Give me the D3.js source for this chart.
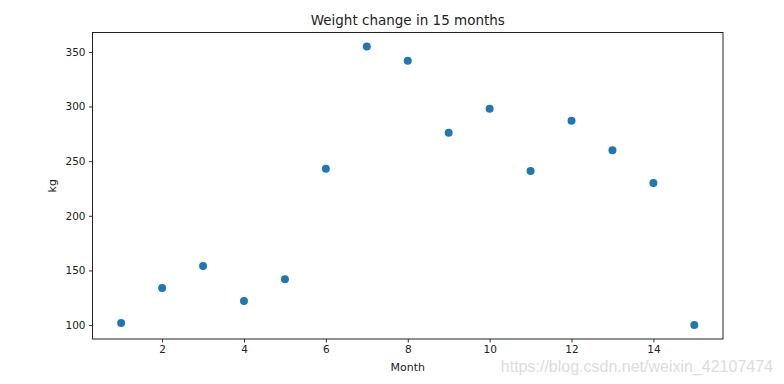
<!DOCTYPE html>
<html>
<head>
<meta charset="utf-8">
<script src="https://cdn.jsdelivr.net/npm/d3@7"></script>
<style>
html,body{margin:0;padding:0;background:#fff;}
svg{display:block;font-family:"DejaVu Sans",sans-serif;}
</style>
</head>
<body>
<svg id="chart" width="784" height="384"></svg>
<script>
const months = [1,2,3,4,5,6,7,8,9,10,11,12,13,14,15];
const weights = [102,134,154,122,142,243,355,342,276,298,241,287,260,230,100];
const xTicks = [2,4,6,8,10,12,14];
const yTicks = [100,150,200,250,300,350];
const title = "Weight change in 15 months";
const xLabel = "Month";
const yLabel = "kg";
const watermark = "https://blog.csdn.net/weixin_42107474";

const svg = d3.select("#chart");
const L = 92.5, R = 723, T = 32.5, B = 339;

const xmin = d3.min(months), xmax = d3.max(months);
const xpad = (xmax - xmin) * 0.05;
const ymin = d3.min(weights), ymax = d3.max(weights);
const ypad = (ymax - ymin) * 0.05;

const x = d3.scaleLinear().domain([xmin - xpad, xmax + xpad]).range([L, R]);
const y = d3.scaleLinear().domain([ymin - ypad, ymax + ypad]).range([B, T]);

const xAxis = svg.append("g").attr("transform", `translate(0,${B})`)
  .call(d3.axisBottom(x).tickValues(xTicks).tickSize(3.5).tickPadding(3.5).tickFormat(d3.format("d")));
const yAxis = svg.append("g").attr("transform", `translate(${L},0)`)
  .call(d3.axisLeft(y).tickValues(yTicks).tickSize(3.5).tickPadding(3.5).tickFormat(d3.format("d")));

[xAxis, yAxis].forEach(g => {
  g.select(".domain").remove();
  g.selectAll("line").attr("stroke", "#000").attr("stroke-width", 0.8);
  g.selectAll("text").attr("fill", "#222").attr("font-size", 10.5).attr("font-family", "DejaVu Sans, sans-serif");
});

svg.append("rect").attr("x", L).attr("y", T).attr("width", R - L).attr("height", B - T)
  .attr("fill", "none").attr("stroke", "#222").attr("stroke-width", 1);

svg.append("g").selectAll("circle").data(months).join("circle")
  .attr("cx", (d) => x(d))
  .attr("cy", (d, i) => y(weights[i]))
  .attr("r", 4)
  .attr("fill", "#1f77b4");

svg.append("text").attr("x", (L + R) / 2).attr("y", 25).attr("text-anchor", "middle")
  .attr("font-size", 13.5).attr("fill", "#222").text(title);

svg.append("text").attr("x", (L + R) / 2).attr("y", 371).attr("text-anchor", "middle")
  .attr("font-size", 11).attr("fill", "#222").text(xLabel);

svg.append("text").attr("transform", `translate(56,${(T + B) / 2}) rotate(-90)`)
  .attr("text-anchor", "middle").attr("font-size", 11).attr("fill", "#222").text(yLabel);

svg.append("text").attr("x", 773).attr("y", 372).attr("text-anchor", "end")
  .attr("font-family", "Liberation Sans, Arial, sans-serif")
  .attr("font-size", 16).attr("fill", "#dcdcdc").text(watermark);
</script>
</body>
</html>
